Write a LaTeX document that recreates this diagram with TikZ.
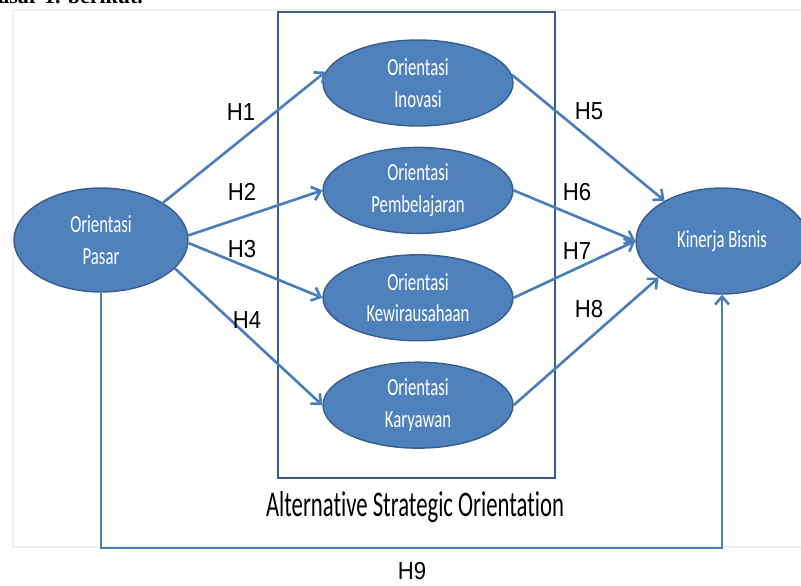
\documentclass[tikz,border=0pt]{standalone}
\usepackage{fontspec}
\setmainfont{Carlito}[FakeStretch=0.68, Ligatures=NoCommon]
\newfontfamily\hfont{Liberation Sans}[FakeStretch=0.9]
\newfontfamily\capfont{Carlito}[FakeStretch=0.63, Ligatures=NoCommon]
\newfontfamily\pagefont{Liberation Serif}
\usepackage{tikz}
\usetikzlibrary{shapes.geometric,arrows.meta,positioning}
\usepackage{xcolor}
\definecolor{ovalblue}{HTML}{4F81BD}
\definecolor{ovalline}{HTML}{385D8A}
\definecolor{arrowblue}{HTML}{4A7EBB}
\definecolor{boxline}{HTML}{3B5B8A}

\begin{document}
\begin{tikzpicture}[x=0.02cm, y=-0.02cm, node distance=0.4cm, font=\fontsize{14}{18}\selectfont]
\tikzset{
  oval/.style={ellipse, draw=ovalline, line width=0.8pt, fill=ovalblue, text=white, inner sep=0pt, minimum width=3.8cm, minimum height=1.72cm, align=center},
  arr/.style={->, >={Straight Barb[length=4.5pt,width=8pt]}, draw=arrowblue, line width=1.5pt},
  hyp/.style={font=\hfont\fontsize{14}{16}\selectfont},
}
\useasboundingbox (0,0) rectangle (801,585);
% page text and frame around the figure
\node[font=\pagefont\bfseries\fontsize{12.5}{15}\selectfont, anchor=base west, inner sep=0pt] (gbr) at (-2,3.5) {asar 1. berikut.};
\draw[black!6, line width=0.6pt] (13,10) rectangle (820,547);
\draw[boxline, line width=1.2pt] (278,12) rectangle (555,478);
% variables
\node[oval] (inov) at (418,83) {Orientasi\\Inovasi};
\node[oval, below=of inov] (pemb) {Orientasi\\Pembelajaran};
\node[oval, below=of pemb] (kewi) {Orientasi\\Kewirausahaan};
\node[oval, below=of kewi] (kary) {Orientasi\\Karyawan};
\node[oval, minimum width=3.48cm, minimum height=2.08cm] (pasar) at (101,240) {Orientasi\\Pasar};
\node[oval, minimum width=3.44cm, minimum height=2.12cm] (kin) at (722,241) {Kinerja Bisnis};
\node[font=\capfont\fontsize{20.5}{24}\selectfont, anchor=base] (aso) at (415,516) {Alternative Strategic Orientation};
% hypotheses
\draw[arr] (pasar.31) -- (inov.173);
\draw[arr] (pasar.3) -- (pemb.west);
\draw[arr] (pasar.-2) -- (kewi.west);
\draw[arr] (pasar.-21) -- (kary.west);
\draw[arr] (inov.5) -- (kin.145);
\draw[arr] (pemb.east) -- (kin.west);
\draw[arr] (kewi.east) -- (kin.west);
\draw[arr] (kary.east) -- (kin.210);
\draw[arr] (pasar.south) -- (pasar.south |- 0,548) -| (kin.south);
\node[hyp] (h1) at (241,112) {H1};
\node[hyp] (h2) at (242,192) {H2};
\node[hyp] (h3) at (242,249) {H3};
\node[hyp] (h4) at (247,320) {H4};
\node[hyp] (h5) at (589,111) {H5};
\node[hyp] (h6) at (577,192) {H6};
\node[hyp] (h7) at (577,251) {H7};
\node[hyp] (h8) at (589,309) {H8};
\node[hyp] (h9) at (412,571) {H9};
\end{tikzpicture}
\end{document}
